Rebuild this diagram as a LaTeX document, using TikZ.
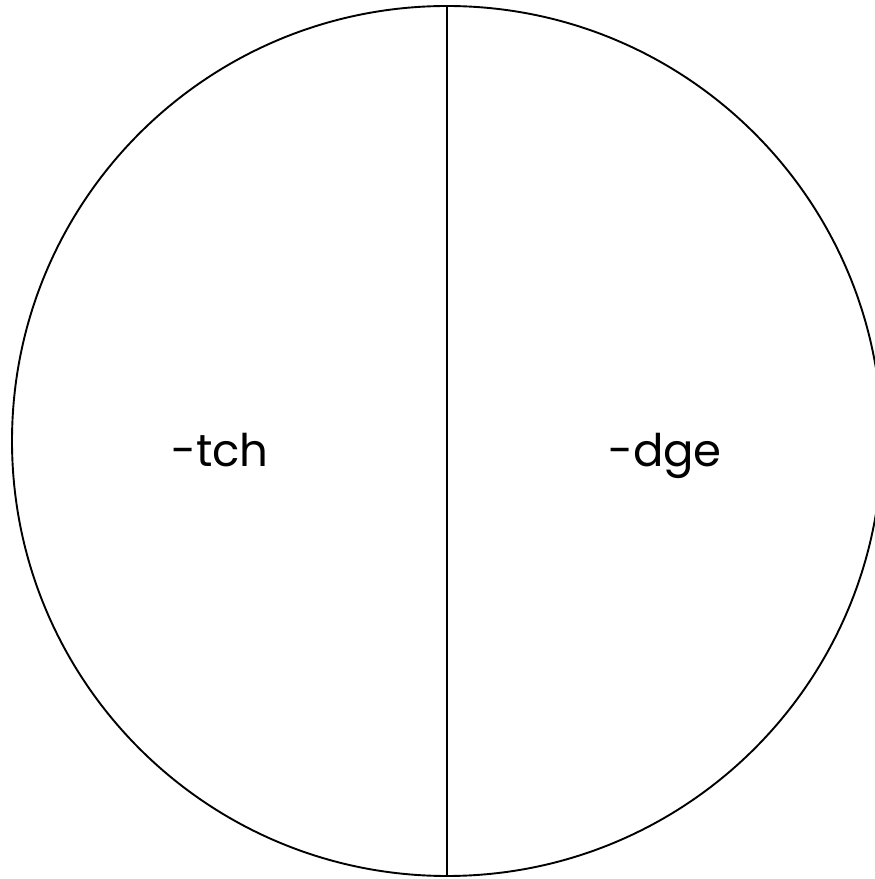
\documentclass[tikz,border=0pt]{standalone}
\usepackage{fontspec}
\setmainfont{Poppins}
\begin{document}
\begin{tikzpicture}[x=1pt,y=1pt]
            \def\cx{447}
            \def\cy{438}
            \def\r{435}
            \clip (0,0) rectangle (875,879);
            \useasboundingbox (0,0) rectangle (875,879);
            \draw[line width=1.9pt] (\cx,\cy) circle (\r);
            \coordinate (top) at (\cx,{\cy+\r});
            \coordinate (bot) at (\cx,{\cy-\r});
            \draw[line width=1.9pt] (top)--(bot);
            \node[font=\fontsize{45}{49}\selectfont,anchor=base] (tch) at (220,412) {-tch};
            \node[font=\fontsize{45}{49}\selectfont,anchor=base] (dge) at (665,412) {-dge};
            \end{tikzpicture}
\end{document}
